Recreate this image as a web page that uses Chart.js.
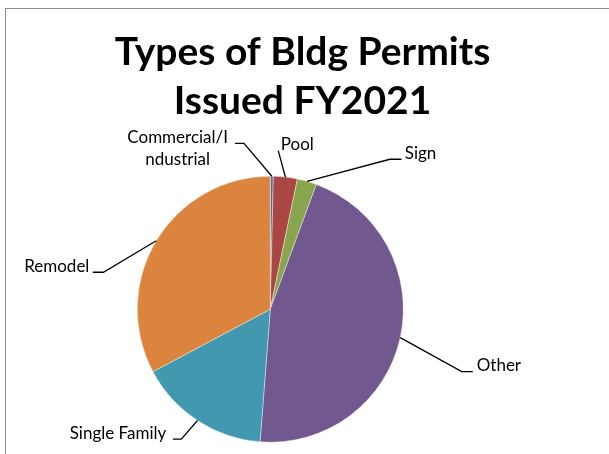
<!DOCTYPE html>
<html>
<head>
<meta charset="utf-8">
<script src="https://cdn.jsdelivr.net/npm/chart.js@4.4.1/dist/chart.umd.min.js"></script>
<style>
  html, body { margin: 0; padding: 0; background: #fff; overflow: hidden; }
  #frame { position: absolute; left: 5px; top: 8px; width: 700px; height: 500px; border: 1px solid #8a8a8a; }
  #frame canvas { position: absolute; left: 0; top: 0; }
</style>
</head>
<body>
<div id="frame"><canvas id="permitsChart" width="640" height="480"></canvas></div>
<script>
const permitTypes = ["Commercial/Industrial", "Pool", "Sign", "Other", "Single Family", "Remodel"];
const permitCounts = [4, 32, 26, 502, 176, 361];
const sliceColors = ["#4572A7", "#AA4643", "#89A54E", "#71588F", "#4198AF", "#DB843D"];
const titleLines = ["Types of Bldg Permits", "Issued FY2021"];

// where each leader line bends (offset from the slice edge), stub length, text side
const labelLayout = [
    { dx: -27.8, dy: -32.9, stub: -9, gap: 7, side: "left", wrap: 12 },
    { dx: -7.2, dy: -26.4, stub: 0, gap: 2.5, side: "right" },
    { dx: 82.8, dy: -22.1, stub: 11.7, gap: 3.3, side: "right" },
    { dx: 61.5, dy: 33.9, stub: 11, gap: 4, side: "right" },
    { dx: -16.2, dy: 18.6, stub: -8.4, gap: 6.6, side: "left" },
    { dx: -52.9, dy: 31.5, stub: -10.6, gap: 3.4, side: "left" }
];

const chartTitle = {
    id: "chartTitle",
    afterDraw(chart) {
        const ctx = chart.ctx;
        ctx.save();
        ctx.font = "bold 39px Lato";
        ctx.fillStyle = "#000";
        ctx.textAlign = "center";
        ctx.textBaseline = "alphabetic";
        titleLines.forEach((line, i) => ctx.fillText(line, 296.5, 56 + i * 49));
        ctx.restore();
    }
};

const leaderLabels = {
    id: "leaderLabels",
    afterDatasetsDraw(chart) {
        const ctx = chart.ctx;
        const arcs = chart.getDatasetMeta(0).data;
        ctx.save();
        ctx.font = "17px Lato";
        ctx.fillStyle = "#000";
        ctx.strokeStyle = "#000";
        ctx.lineWidth = 1.3;
        ctx.textBaseline = "alphabetic";
        arcs.forEach((arc, i) => {
            const p = arc.getProps(["x", "y", "startAngle", "endAngle", "outerRadius"], true);
            const mid = (p.startAngle + p.endAngle) / 2;
            const px = p.x + Math.cos(mid) * p.outerRadius;
            const py = p.y + Math.sin(mid) * p.outerRadius;
            const l = labelLayout[i];
            const ex = px + l.dx, ey = py + l.dy;
            const sx = ex + l.stub;

            ctx.beginPath();
            ctx.moveTo(px, py);
            ctx.lineTo(ex, ey);
            ctx.lineTo(sx, ey);
            ctx.stroke();

            const name = permitTypes[i];
            const lines = l.wrap ? [name.slice(0, l.wrap), name.slice(l.wrap)] : [name];
            const maxW = Math.max(...lines.map(t => ctx.measureText(t).width));
            const cx = l.side === "left" ? sx - l.gap - maxW / 2 : sx + l.gap + maxW / 2;
            ctx.textAlign = "center";
            lines.forEach((t, k) => {
                const w = ctx.measureText(t).width;
                // single lines hug the stub, wrapped lines are centred in the block
                let tx = cx;
                if (lines.length === 1) tx = l.side === "left" ? sx - l.gap - w / 2 : sx + l.gap + w / 2;
                ctx.fillText(t, tx, ey - 0.5 + k * 22.3);
            });
        });
        ctx.restore();
    }
};

new Chart(document.getElementById("permitsChart"), {
    type: "pie",
    data: {
        labels: permitTypes,
        datasets: [
            {
                data: permitCounts,
                backgroundColor: sliceColors,
                borderColor: "#ffffff",
                borderWidth: 0.4,
                hoverOffset: 0,
                radius: 133
            }
        ]
    },
    options: {
        responsive: false,
        animation: false,
        events: [],
        devicePixelRatio: 1,
        layout: {
            padding: { left: 0, right: 111.4, top: 120.4, bottom: 0 }
        },
        plugins: {
            legend: { display: false },
            title: { display: false },
            tooltip: { enabled: false }
        }
    },
    plugins: [leaderLabels, chartTitle]
});
</script>
</body>
</html>
